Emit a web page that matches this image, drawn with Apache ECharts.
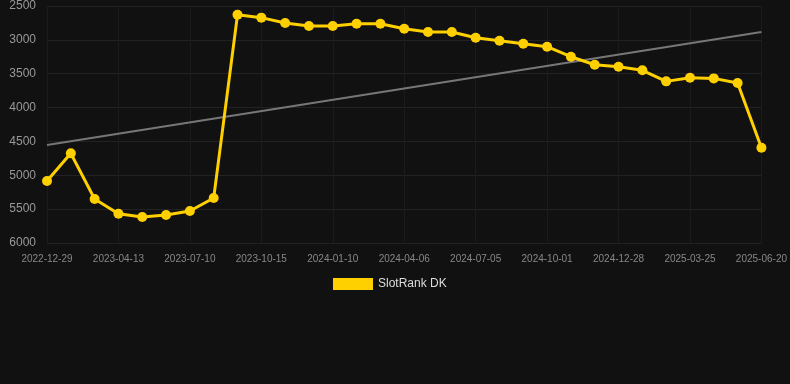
<!DOCTYPE html>
<html>
<head>
<meta charset="utf-8">
<script src="https://cdn.jsdelivr.net/npm/echarts@6/dist/echarts.min.js"></script>
<style>
  html, body { margin: 0; padding: 0; background: #111111; }
  #chart { width: 790px; height: 384px; }
</style>
</head>
<body>
<div id="chart"></div>
<script>
// 日期（类目轴）
const dates = [
    '2022-12-29', '2023-02-03', '2023-03-10', '2023-04-13', '2023-05-12', '2023-06-10',
    '2023-07-10', '2023-08-12', '2023-09-13', '2023-10-15', '2023-11-13', '2023-12-12',
    '2024-01-10', '2024-02-08', '2024-03-08', '2024-04-06', '2024-05-06', '2024-06-05',
    '2024-07-05', '2024-08-03', '2024-09-01', '2024-10-01', '2024-10-30', '2024-11-28',
    '2024-12-28', '2025-01-26', '2025-02-24', '2025-03-25', '2025-04-23', '2025-05-22',
    '2025-06-20'
];

// 排名数值
const rankDK = [
    5085, 4676, 5350, 5567, 5617, 5587, 5528, 5336, 2628, 2672, 2751, 2795,
    2795, 2761, 2761, 2835, 2884, 2884, 2968, 3012, 3057, 3101, 3249, 3367,
    3396, 3450, 3613, 3559, 3569, 3637, 4593
];

// 趋势线两端
const trendEnds = [4553, 2884];

const yTicks = { min: 2500, max: 6000, interval: 500 };

const chart = echarts.init(document.getElementById('chart'));

chart.setOption({
    backgroundColor: '#111111',
    animation: false,
    grid: { left: 47, right: 28, top: 6, bottom: 141 },
    legend: {
        data: [{ name: 'SlotRank DK', icon: 'rect' }],
        top: 273,
        left: 328,
        itemWidth: 40,
        itemHeight: 12,
        itemStyle: { color: '#ffd000' },
        textStyle: { color: '#dddddd', fontSize: 12 }
    },
    xAxis: {
        type: 'category',
        data: dates,
        boundaryGap: false,
        axisLine: { show: false },
        axisTick: { show: false },
        axisLabel: { interval: 2, color: '#888888', fontSize: 10, margin: 11 },
        splitLine: { show: true, interval: 2, lineStyle: { color: '#1b1b1b' } }
    },
    yAxis: {
        type: 'value',
        inverse: true,
        min: yTicks.min,
        max: yTicks.max,
        interval: yTicks.interval,
        axisLine: { show: false },
        axisTick: { show: false },
        axisLabel: { color: '#999999', fontSize: 12, margin: 11, formatter: v => String(v) },
        splitLine: { lineStyle: { color: '#222222' } }
    },
    series: [
        {
            name: 'trend',
            type: 'line',
            data: [[dates[0], trendEnds[0]], [dates[dates.length - 1], trendEnds[1]]],
            symbol: 'none',
            lineStyle: { color: '#777777', width: 2 },
            silent: true,
            z: 1
        },
        {
            name: 'SlotRank DK',
            type: 'line',
            data: rankDK,
            symbol: 'circle',
            symbolSize: 10,
            itemStyle: { color: '#ffd000' },
            lineStyle: { color: '#ffd000', width: 3 },
            z: 2
        }
    ]
});
</script>
</body>
</html>
